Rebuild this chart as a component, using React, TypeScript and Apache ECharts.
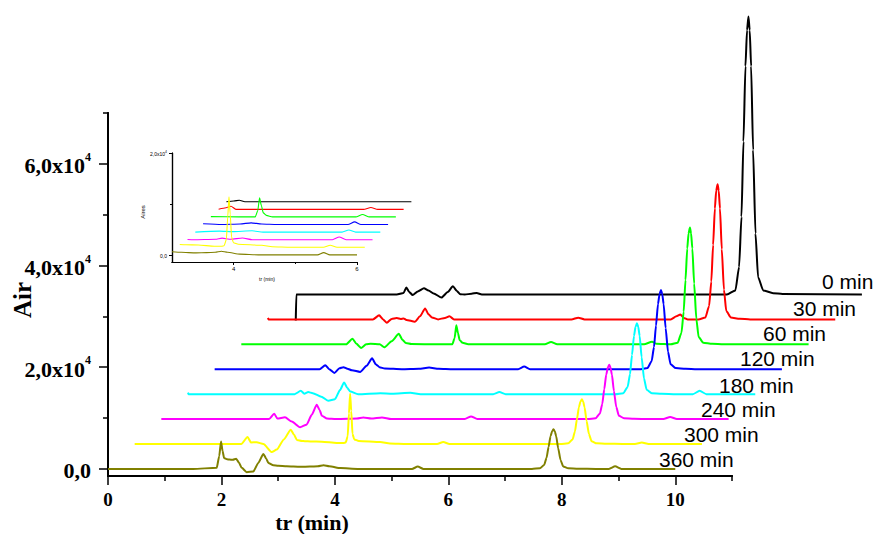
import React, { useEffect, useRef } from "react";
import * as echarts from "echarts";

type Pt = [number, number];

// ---------- data (local retention time in min, area signal) ----------
const traceLabels = ["0 min", "30 min", "60 min", "120 min", "180 min", "240 min", "300 min", "360 min"];
const waterfallStep = [7, 6, 5, 4, 3, 2, 1, 0];

const trace0min: Pt[] = [
  [0.02, -5100], [0.03, 0], [1.8, 0], [1.92, 300], [1.97, 1380], [2.02, 500], [2.08, -100], [2.17, 600],
  [2.28, 1240], [2.36, 800], [2.45, 200], [2.59, -600], [2.7, 500], [2.79, 1630], [2.86, 700], [2.92, 50],
  [3.0, 0], [3.12, 150], [3.21, 300], [3.3, 0], [6.0, 0], [7.62, 0], [7.77, 800], [7.835, 5400],
  [7.877, 15300], [7.912, 30100], [7.947, 44900], [7.975, 52000], [8.0, 54700], [8.022, 52000],
  [8.047, 44900], [8.082, 28400], [8.124, 12000], [8.17, 3400], [8.26, 800], [8.435, 270], [8.6, 100], [10.0, 0],
];
const trace30min: Pt[] = [
  [0, 300], [0.01, 0], [1.85, 0], [1.96, 800], [2.03, 0], [2.095, -650], [2.18, 100], [2.27, 260], [2.34, 80],
  [2.39, 200], [2.44, -100], [2.59, -450], [2.68, 600], [2.77, 2160], [2.83, 1000], [2.89, 400], [3.0, 0],
  [3.12, 300], [3.2, 600], [3.28, 0], [5.35, 0], [5.47, 350], [5.58, 0], [6.0, 0], [7.1, 0], [7.2, 600],
  [7.27, 950], [7.33, 300], [7.4, 0], [7.59, 0], [7.71, 370], [7.777, 2660], [7.815, 7450], [7.847, 14630],
  [7.878, 21800], [7.901, 25300], [7.926, 26600], [7.946, 25300], [7.968, 21800], [8.0, 13800], [8.038, 5850],
  [8.079, 1650], [8.16, 370], [8.316, 130], [8.5, 0], [10.0, 0],
];
const trace60min: Pt[] = [
  [0, 0], [1.85, 0], [1.96, 1100], [2.03, 100], [2.11, -720], [2.2, 0], [2.28, 100], [2.44, 0], [2.52, -600],
  [2.65, 600], [2.777, 2060], [2.84, 900], [2.9, 250], [3.0, 50], [3.45, 0], [3.72, 0], [3.76, 1200],
  [3.79, 3740], [3.82, 2200], [3.85, 800], [3.9, 300], [4.0, 0], [5.35, 0], [5.46, 480], [5.57, 0], [6.0, 0],
  [7.1, 0], [7.24, 520], [7.32, 100], [7.57, 0], [7.693, 320], [7.76, 2300], [7.798, 6430], [7.83, 12630],
  [7.861, 18830], [7.884, 21800], [7.909, 22960], [7.929, 21800], [7.951, 18830], [7.983, 11940],
  [8.021, 5050], [8.062, 1420], [8.143, 320], [8.3, 110], [8.5, 0], [10.0, 0],
];
const trace120min: Pt[] = [
  [0, 0], [1.85, 0], [1.95, 790], [2.02, 0], [2.11, -730], [2.2, 200], [2.27, 400], [2.34, 100], [2.42, -200],
  [2.565, -530], [2.68, 700], [2.776, 2160], [2.84, 1000], [2.905, 400], [3.0, 150], [3.3, 0], [3.6, 100],
  [3.78, 330], [3.95, 100], [4.2, 0], [5.35, 0], [5.457, 520], [5.56, 0], [6.0, 0], [7.49, 0], [7.628, 220],
  [7.703, 1560], [7.745, 4370], [7.78, 8580], [7.815, 12790], [7.843, 14820], [7.868, 15600], [7.89, 14820],
  [7.915, 12790], [7.95, 8110], [7.992, 3430], [8.038, 970], [8.128, 220], [8.303, 80], [8.5, 0], [10.0, 0],
];
const trace180min: Pt[] = [
  [0, 300], [0.01, 0], [1.88, 0], [1.99, 650], [2.05, 100], [2.12, 400], [2.2, 200], [2.35, -500],
  [2.475, -1300], [2.59, -1000], [2.68, 800], [2.752, 2300], [2.81, 1200], [2.86, 520], [3.0, 0], [3.39, 200],
  [3.6, 100], [3.92, 260], [4.1, 0], [5.38, 0], [5.49, 400], [5.6, 0], [6.0, 0], [7.535, 0], [7.675, 200],
  [7.75, 1400], [7.792, 3910], [7.827, 7680], [7.862, 11450], [7.89, 13260], [7.915, 13960], [7.937, 13260],
  [7.962, 11450], [7.997, 7260], [8.039, 3070], [8.085, 870], [8.175, 200], [8.35, 70], [8.6, 0], [8.9, 0],
  [9.02, 650], [9.14, 0], [10.0, 0],
];
const trace240min: Pt[] = [
  [0, 0], [1.9, 0], [1.99, 1040], [2.045, 100], [2.18, 340], [2.3, -500], [2.446, -1600], [2.56, -1100],
  [2.65, 800], [2.74, 2800], [2.79, 1800], [2.83, 630], [2.92, 100], [3.0, 50], [3.1, 0], [3.45, 100],
  [3.56, 300], [3.7, 100], [3.89, 330], [4.05, 0], [5.35, 0], [5.46, 520], [5.57, 0], [6.0, 0], [7.516, 0],
  [7.656, 150], [7.731, 1070], [7.773, 2980], [7.808, 5860], [7.843, 8740], [7.871, 10130], [7.896, 10660],
  [7.918, 10130], [7.943, 8740], [7.978, 5540], [8.02, 2350], [8.066, 660], [8.156, 150], [8.331, 50],
  [8.6, 0], [8.85, 0], [8.97, 400], [9.09, 0], [10.0, 0],
];
const trace300min: Pt[] = [
  [0, 0], [1.88, 0], [1.99, 1370], [2.05, 300], [2.15, 330], [2.27, 0], [2.417, -1600], [2.505, -1100],
  [2.63, 900], [2.752, 2800], [2.81, 1800], [2.86, 800], [2.95, 600], [3.0, 550], [3.1, 500], [3.3, 450],
  [3.56, 200], [3.68, 200], [3.72, 300], [3.755, 1500], [3.778, 6000], [3.798, 9900], [3.818, 6500],
  [3.84, 2000], [3.87, 900], [3.95, 600], [4.33, 400], [4.5, 100], [4.8, 0], [5.33, 0], [5.44, 400],
  [5.55, 0], [6.0, 0], [7.504, 0], [7.644, 120], [7.719, 880], [7.761, 2460], [7.796, 4840], [7.831, 7220],
  [7.859, 8360], [7.884, 8800], [7.906, 8360], [7.931, 7220], [7.966, 4580], [8.008, 1940], [8.054, 550],
  [8.144, 120], [8.319, 40], [8.6, 0], [8.82, 0], [8.94, 300], [9.06, 0], [10.0, 0],
];
const trace360min: Pt[] = [
  [0, 0], [1.5, 0], [1.917, 200], [1.96, 2500], [1.993, 5370], [2.02, 3500], [2.046, 2160], [2.1, 1900],
  [2.14, 1830], [2.2, 1800], [2.26, 2000], [2.31, 1200], [2.357, 200], [2.446, -650], [2.563, -500],
  [2.65, 1180], [2.739, 2950], [2.79, 2000], [2.827, 1180], [2.915, 700], [3.0, 600], [3.15, 500],
  [3.39, 400], [3.56, 450], [3.7, 500], [3.8, 700], [3.9, 500], [4.1, 150], [4.4, 0], [5.36, 0], [5.46, 450],
  [5.56, 0], [6.0, 0], [7.474, 0], [7.614, 110], [7.689, 780], [7.731, 2180], [7.766, 4290], [7.801, 6400],
  [7.829, 7410], [7.854, 7800], [7.876, 7410], [7.901, 6400], [7.936, 4060], [7.978, 1720], [8.024, 480],
  [8.114, 110], [8.289, 40], [8.6, 0], [8.83, 0], [8.94, 500], [9.05, 0], [10.0, 0],
];

const traces: Pt[][] = [trace0min, trace30min, trace60min, trace120min, trace180min, trace240min, trace300min, trace360min];

const mainShiftX = 0.47;
const mainShiftY = 4900;
const insetShiftX = 0.126;
const insetShiftY = 1490;
const insetWindow: [number, number] = [3, 6];

// visible axis ranges
const mainX: [number, number] = [0, 11];
const mainY: [number, number] = [-1400, 70000];
const insetX: [number, number] = [3, 6];
const insetY: [number, number] = [-1400, 20000];
// wider (hidden) ranges for the waterfall traces, which run past the axes
const mainXWide: [number, number] = [0, 13.4];
const mainYWide: [number, number] = [-1400, 91400];
const insetXWide: [number, number] = [3, 7];

const xMajorTicks = [0, 2, 4, 6, 8, 10];
const xMinorTicks = [1, 3, 5, 7, 9, 11];
const yMajorTicks = [0, 20000, 40000, 60000];
const yMinorTicks = [10000, 30000, 50000, 70000];
const insetXTicks = [4, 6];
const insetXMinorTicks = [5];
const insetYTicks = [0, 20000];
const insetYMinorTicks = [10000];

// ---------- layout & styles ----------
const MAIN = { left: 108, top: 113, width: 624, height: 363 };
const INSET = { left: 172, top: 153, width: 185, height: 109 };
const traceColors = ["#000000", "#ff0000", "#00ff00", "#0000ff", "#00ffff", "#ff00ff", "#ffff00", "#808000"];
const labelPos: [number, number][] = [
  [822, 281], [793, 308], [763, 333], [740, 358], [719, 385], [701, 409], [684, 434], [659, 459],
];
const SERIF = "'Liberation Serif', 'Times New Roman', serif";
const SANS = "'Liberation Sans', Arial, sans-serif";

function wideGrid(g: { left: number; top: number; width: number; height: number },
  x: [number, number], y: [number, number], xw: [number, number], yw: [number, number]) {
  const pxX = g.width / (x[1] - x[0]);
  const pxY = g.height / (y[1] - y[0]);
  const width = pxX * (xw[1] - xw[0]);
  const height = pxY * (yw[1] - yw[0]);
  const bottom = g.top + g.height;
  return { left: g.left, top: bottom - height, width, height, outerBoundsMode: "none" };
}

function fmtSci(v: number): string {
  if (v === 0) return "{a|0,0}";
  return "{a|" + (v / 10000).toFixed(1).replace(".", ",") + "x10}{b|4}";
}

export default function App() {
  const ref = useRef<HTMLDivElement>(null);
  useEffect(() => {
    if (!ref.current) return;
    const chart = echarts.init(ref.current, undefined, { renderer: "svg" });

    const mainSeries = traces.map((tr, i) => ({
      type: "line",
      xAxisIndex: 4,
      yAxisIndex: 4,
      data: tr.map(([t, v]) => [t + waterfallStep[i] * mainShiftX, v + waterfallStep[i] * mainShiftY]),
      showSymbol: false,
      symbol: "none",
      clip: false,
      smooth: 0.2,
      smoothMonotone: "x",
      lineStyle: { color: traceColors[i], width: 2 },
      itemStyle: { color: traceColors[i] },
      silent: true,
    }));
    const insetSeries = traces.map((tr, i) => ({
      type: "line",
      xAxisIndex: 5,
      yAxisIndex: 5,
      data: tr
        .filter(([t]) => t >= insetWindow[0] && t <= insetWindow[1])
        .map(([t, v]) => [t + waterfallStep[i] * insetShiftX, v + waterfallStep[i] * insetShiftY]),
      showSymbol: false,
      symbol: "none",
      clip: false,
      smooth: 0.2,
      smoothMonotone: "x",
      lineStyle: { color: traceColors[i], width: 1.1 },
      itemStyle: { color: traceColors[i] },
      silent: true,
    }));

    const axisLine = { show: true, onZero: false, lineStyle: { color: "#000", width: 2 } };
    const insetAxisLine = { show: true, onZero: false, lineStyle: { color: "#000", width: 1.2 } };
    const hiddenAxis = (gridIndex: number, r: [number, number]) => ({
      type: "value", gridIndex, min: r[0], max: r[1], show: false,
      splitLine: { show: false }, axisLine: { show: false }, axisTick: { show: false }, axisLabel: { show: false },
    });

    chart.setOption({
      animation: false,
      backgroundColor: "#fff",
      grid: [
        { ...MAIN, outerBoundsMode: "none" },
        { ...INSET, outerBoundsMode: "none" },
        wideGrid(MAIN, mainX, mainY, mainXWide, mainYWide),
        wideGrid(INSET, insetX, insetY, insetXWide, insetY),
      ],
      xAxis: [
        {
          type: "value", gridIndex: 0, min: mainX[0], max: mainX[1], position: "bottom",
          axisLine,
          splitLine: { show: false },
          axisTick: { show: true, length: 9, lineStyle: { width: 1.5, color: "#000" }, customValues: xMajorTicks },
          axisLabel: {
            show: true, customValues: xMajorTicks, margin: 14,
            fontFamily: SERIF, fontWeight: "bold", fontSize: 19, color: "#000",
          },
        },
        {
          type: "value", gridIndex: 0, min: mainX[0], max: mainX[1], position: "bottom",
          axisLine,
          splitLine: { show: false },
          axisTick: { show: true, length: 5, lineStyle: { width: 1.5, color: "#000" }, customValues: xMinorTicks },
          axisLabel: { show: false },
        },
        {
          type: "value", gridIndex: 1, min: insetX[0], max: insetX[1], position: "bottom",
          axisLine: insetAxisLine,
          splitLine: { show: false },
          axisTick: { show: true, length: 3, lineStyle: { width: 1, color: "#000" }, customValues: insetXTicks },
          axisLabel: {
            show: true, customValues: insetXTicks, margin: 4,
            fontFamily: SANS, fontSize: 6, color: "#000",
          },
        },
        {
          type: "value", gridIndex: 1, min: insetX[0], max: insetX[1], position: "bottom",
          axisLine: insetAxisLine,
          splitLine: { show: false },
          axisTick: { show: true, length: 2, lineStyle: { width: 1, color: "#000" }, customValues: insetXMinorTicks },
          axisLabel: { show: false },
        },
        hiddenAxis(2, mainXWide),
        hiddenAxis(3, insetXWide),
      ],
      yAxis: [
        {
          type: "value", gridIndex: 0, min: mainY[0], max: mainY[1], position: "left",
          axisLine,
          splitLine: { show: false },
          axisTick: { show: true, length: 9, lineStyle: { width: 1.5, color: "#000" }, customValues: yMajorTicks },
          axisLabel: {
            show: true, customValues: yMajorTicks, margin: 17,
            formatter: (v: number) => fmtSci(v),
            rich: {
              a: { fontFamily: SERIF, fontWeight: "bold", fontSize: 22, color: "#000", lineHeight: 26, verticalAlign: "bottom" },
              b: { fontFamily: SERIF, fontWeight: "bold", fontSize: 12, color: "#000", lineHeight: 13, verticalAlign: "top" },
            },
          },
        },
        {
          type: "value", gridIndex: 0, min: mainY[0], max: mainY[1], position: "left",
          axisLine,
          splitLine: { show: false },
          axisTick: { show: true, length: 5, lineStyle: { width: 1.5, color: "#000" }, customValues: yMinorTicks },
          axisLabel: { show: false },
        },
        {
          type: "value", gridIndex: 1, min: insetY[0], max: insetY[1], position: "left",
          axisLine: insetAxisLine,
          splitLine: { show: false },
          axisTick: { show: true, length: 3, lineStyle: { width: 1, color: "#000" }, customValues: insetYTicks },
          axisLabel: {
            show: true, customValues: insetYTicks, margin: 5,
            formatter: (v: number) => fmtSci(v),
            rich: {
              a: { fontFamily: SANS, fontSize: 5, color: "#000", lineHeight: 7, verticalAlign: "bottom" },
              b: { fontFamily: SANS, fontSize: 3.5, color: "#000", lineHeight: 4, verticalAlign: "top" },
            },
          },
        },
        {
          type: "value", gridIndex: 1, min: insetY[0], max: insetY[1], position: "left",
          axisLine: insetAxisLine,
          splitLine: { show: false },
          axisTick: { show: true, length: 2, lineStyle: { width: 1, color: "#000" }, customValues: insetYMinorTicks },
          axisLabel: { show: false },
        },
        hiddenAxis(2, mainYWide),
        hiddenAxis(3, insetY),
      ],
      series: [...mainSeries, ...insetSeries],
      graphic: [
        {
          type: "text", x: 22, y: 300, rotation: Math.PI / 2,
          style: { text: "Air", font: `bold 25px ${SERIF}`, fill: "#000", align: "center", verticalAlign: "middle" },
        },
        {
          type: "text", x: 312, y: 522,
          style: { text: "tr (min)", font: `bold 22px ${SERIF}`, fill: "#000", align: "center", verticalAlign: "middle" },
        },
        {
          type: "text", x: 143, y: 212, rotation: Math.PI / 2,
          style: { text: "Aires", font: `6px ${SANS}`, fill: "#000", align: "center", verticalAlign: "middle" },
        },
        {
          type: "text", x: 267, y: 279,
          style: { text: "tr (min)", font: `5px ${SANS}`, fill: "#000", align: "center", verticalAlign: "middle" },
        },
        ...traceLabels.map((lab, i) => ({
          type: "text", x: labelPos[i][0], y: labelPos[i][1],
          style: { text: lab, font: `21px ${SANS}`, fill: "#000", align: "left", verticalAlign: "middle" },
        })),
      ],
    });
    return () => chart.dispose();
  }, []);
  return (
    <div
      ref={ref}
      style={{ position: "fixed", left: 0, top: 0, width: 874, height: 534, background: "#fff" }}
    />
  );
}
